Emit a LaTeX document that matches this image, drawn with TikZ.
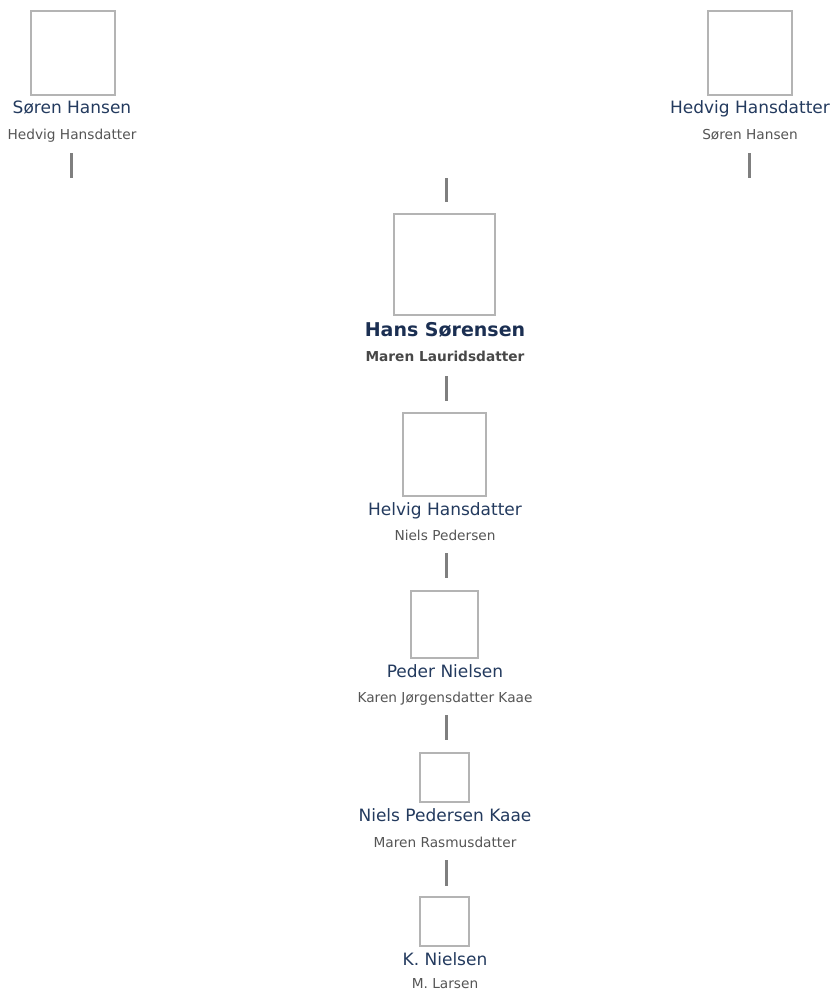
\documentclass[tikz,border=0pt]{standalone}
\usepackage{fontspec}
\setmainfont{DejaVu Sans}
\definecolor{navy}{HTML}{233A5E}
\definecolor{navyb}{HTML}{1B2F52}
\definecolor{spgray}{HTML}{555555}
\definecolor{spgrayb}{HTML}{484848}
\definecolor{boxgray}{HTML}{B4B4B4}
\definecolor{linegray}{HTML}{7F7F7F}
\tikzset{
  photo/.style={draw=boxgray, line width=2pt, fill=white, inner sep=0pt, minimum size=#1},
  pname/.style={anchor=base, inner sep=0pt, text=navy, font=\fontsize{17}{20}\selectfont},
  pnameb/.style={anchor=base, inner sep=0pt, text=navyb, font=\fontsize{19}{22}\selectfont\bfseries},
  sname/.style={anchor=base, inner sep=0pt, text=spgray, font=\fontsize{13.7}{16}\selectfont},
  snameb/.style={anchor=base, inner sep=0pt, text=spgrayb, font=\fontsize{13.7}{16}\selectfont\bfseries},
  stub/.style={draw=linegray, line width=3pt}
}
\begin{document}
\begin{tikzpicture}[x=1pt,y=1pt]
\useasboundingbox (0,0) rectangle (832,-991);
% top left
\node[photo=84pt] (bA) at (73,-53) {};
\node[pname] (nA) at (72,-113) {Søren Hansen};
\node[sname] (sA) at (72,-139) {Hedvig Hansdatter};
\coordinate (a1) at (71.5,-153);
\coordinate (a2) at (71.5,-178);
\draw[stub] (a1) -- (a2);
% top right
\node[photo=84pt] (bB) at (750,-53) {};
\node[pname] (nB) at (750,-113) {Hedvig Hansdatter};
\node[sname] (sB) at (750,-139) {Søren Hansen};
\coordinate (b1) at (749.5,-153);
\coordinate (b2) at (749.5,-178);
\draw[stub] (b1) -- (b2);
% center stub
\coordinate (c1) at (446,-178);
\coordinate (c2) at (446,-202);
\draw[stub] (c1) -- (c2);
% Hans
\node[photo=101pt] (bC) at (444.5,-264.5) {};
\node[pnameb] (nC) at (445,-336) {Hans Sørensen};
\node[snameb] (sC) at (445,-361) {Maren Lauridsdatter};
\coordinate (d1) at (446,-376);
\coordinate (d2) at (446,-401);
\draw[stub] (d1) -- (d2);
% Helvig
\node[photo=83pt] (bD) at (444.5,-454.5) {};
\node[pname] (nD) at (445,-515) {Helvig Hansdatter};
\node[sname] (sD) at (445,-540) {Niels Pedersen};
\coordinate (e1) at (446,-553);
\coordinate (e2) at (446,-578);
\draw[stub] (e1) -- (e2);
% Peder
\node[photo=67pt] (bE) at (444.5,-624.5) {};
\node[pname] (nE) at (445,-677) {Peder Nielsen};
\node[sname] (sE) at (445,-702) {Karen Jørgensdatter Kaae};
\coordinate (f1) at (446,-715);
\coordinate (f2) at (446,-740);
\draw[stub] (f1) -- (f2);
% Niels
\node[photo=49pt] (bF) at (444.5,-777.5) {};
\node[pname] (nF) at (445,-821) {Niels Pedersen Kaae};
\node[sname] (sF) at (445,-847) {Maren Rasmusdatter};
\coordinate (g1) at (446,-860);
\coordinate (g2) at (446,-886);
\draw[stub] (g1) -- (g2);
% K. Nielsen
\node[photo=49pt] (bG) at (444.5,-921.5) {};
\node[pname] (nG) at (445,-965) {K. Nielsen};
\node[sname] (sG) at (445,-988.5) {M. Larsen};
\end{tikzpicture}
\end{document}
